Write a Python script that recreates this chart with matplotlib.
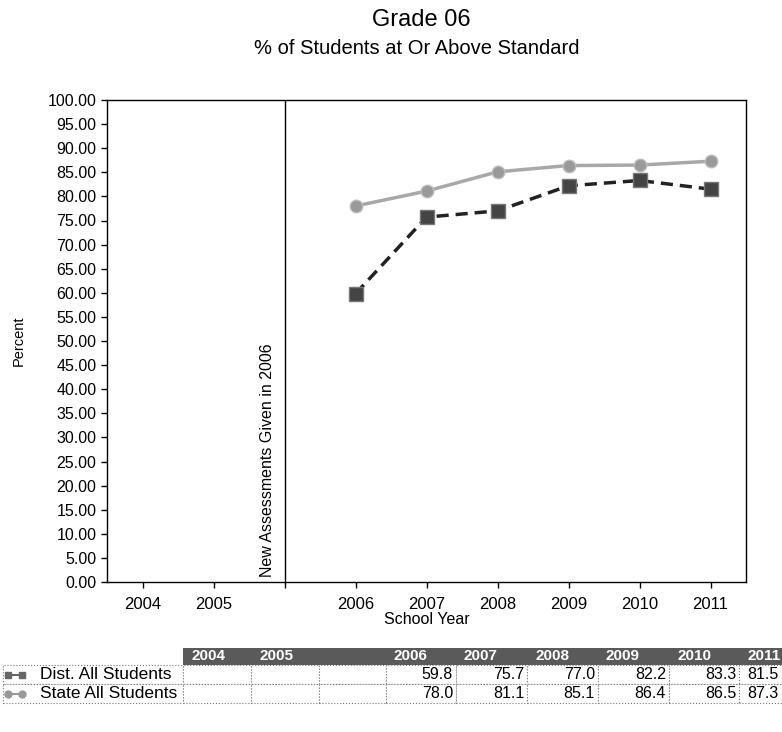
import numpy as np
import matplotlib.pyplot as plt
from matplotlib.patches import Rectangle
from matplotlib.lines import Line2D

plt.rcParams['font.family'] = ['Liberation Sans', 'DejaVu Sans']

# Data
years = ["2004", "2005", "", "2006", "2007", "2008", "2009", "2010", "2011"]
dist_all = [None, None, None, 59.8, 75.7, 77.0, 82.2, 83.3, 81.5]
state_all = [None, None, None, 78.0, 81.1, 85.1, 86.4, 86.5, 87.3]
series_names = ["Dist. All Students", "State All Students"]

W, H = 782, 732
fig = plt.figure(figsize=(W / 100, H / 100), dpi=100)
ax = fig.add_axes([107 / W, 1 - 582 / H, 639 / W, 482 / H])

x = np.arange(len(years))
dist_y = np.array([np.nan if v is None else v for v in dist_all])
state_y = np.array([np.nan if v is None else v for v in state_all])

ax.plot(x, state_y, color='#a8a8a8', lw=2.5, marker='o', ms=9,
        mfc='#9a9a9a', mec='#bdbdbd', zorder=3)
ax.plot(x, dist_y, color='#222222', lw=2.5, ls=(0, (3.5, 2)), marker='s', ms=10,
        mfc='#444444', mec='#777777', zorder=4)

ax.set_xlim(-0.5, len(years) - 0.5)
ax.set_ylim(0, 100)
ax.set_yticks(np.arange(0, 100.1, 5))
ax.set_yticklabels([f"{v:.2f}" for v in np.arange(0, 100.1, 5)], fontsize=11.5)
ax.set_xticks(x)
ax.set_xticklabels(years, fontsize=12)
ax.tick_params(axis='both', length=4, width=1, direction='out')
ax.tick_params(axis='x', pad=7)

# divider for new assessments
ax.axvline(2, color='black', lw=1)
ax.text(1.87, 1, "New Assessments Given in 2006", rotation=90,
        ha='right', va='bottom', fontsize=11.5)

ax.set_xlabel("School Year", fontsize=11.5, labelpad=0)
ax.set_ylabel("Percent", fontsize=10.5, labelpad=16)
for s in ax.spines.values():
    s.set_linewidth(1)

fig.text(421 / W, 1 - 20 / H, "Grade 06", ha='center', va='center', fontsize=17)
fig.text(417 / W, 1 - 48 / H, "% of Students at Or Above Standard",
         ha='center', va='center', fontsize=14.5)

# data table under the chart
col_edges = [3, 183, 251, 319, 386, 456, 527, 598, 669, 739, 790]
head_top, head_bot = 648, 665
row_edges = [665, 684, 703]


def fx(px):
    return px / W


def fy(py):
    return 1 - py / H


fig.patches.append(Rectangle((fx(col_edges[1]), fy(head_bot)),
                             fx(col_edges[-1] - col_edges[1]), (head_bot - head_top) / H,
                             transform=fig.transFigure, facecolor='#5a5a5a',
                             edgecolor='none', zorder=1))
for i, yr in enumerate(years):
    fig.text(fx(col_edges[i + 1] + 8), fy((head_top + head_bot) / 2), yr,
             ha='left', va='center', fontsize=11, color='white', fontweight='bold')

for r, (name, vals) in enumerate(zip(series_names, [dist_all, state_all])):
    top, bot = row_edges[r], row_edges[r + 1]
    for c in range(len(col_edges) - 1):
        fig.patches.append(Rectangle((fx(col_edges[c]), fy(bot)),
                                     fx(col_edges[c + 1] - col_edges[c]), (bot - top) / H,
                                     transform=fig.transFigure, facecolor='white',
                                     edgecolor='#777777', lw=0.8, ls=':', zorder=1))
    ymid = fy((top + bot) / 2)
    mk = 's' if r == 0 else 'o'
    fig.add_artist(Line2D([fx(8), fx(22)], [ymid, ymid], transform=fig.transFigure,
                          color='#666666' if r == 0 else '#999999', lw=1.5,
                          marker=mk, ms=5))
    fig.text(fx(40), ymid, name, ha='left', va='center', fontsize=12.5)
    for c, v in enumerate(vals):
        if v is not None:
            right = min(col_edges[c + 2], W) - 3
            fig.text(fx(right), ymid, f"{v:.1f}",
                     ha='right', va='center', fontsize=11.5)

fig.savefig("out.png", dpi=100)
